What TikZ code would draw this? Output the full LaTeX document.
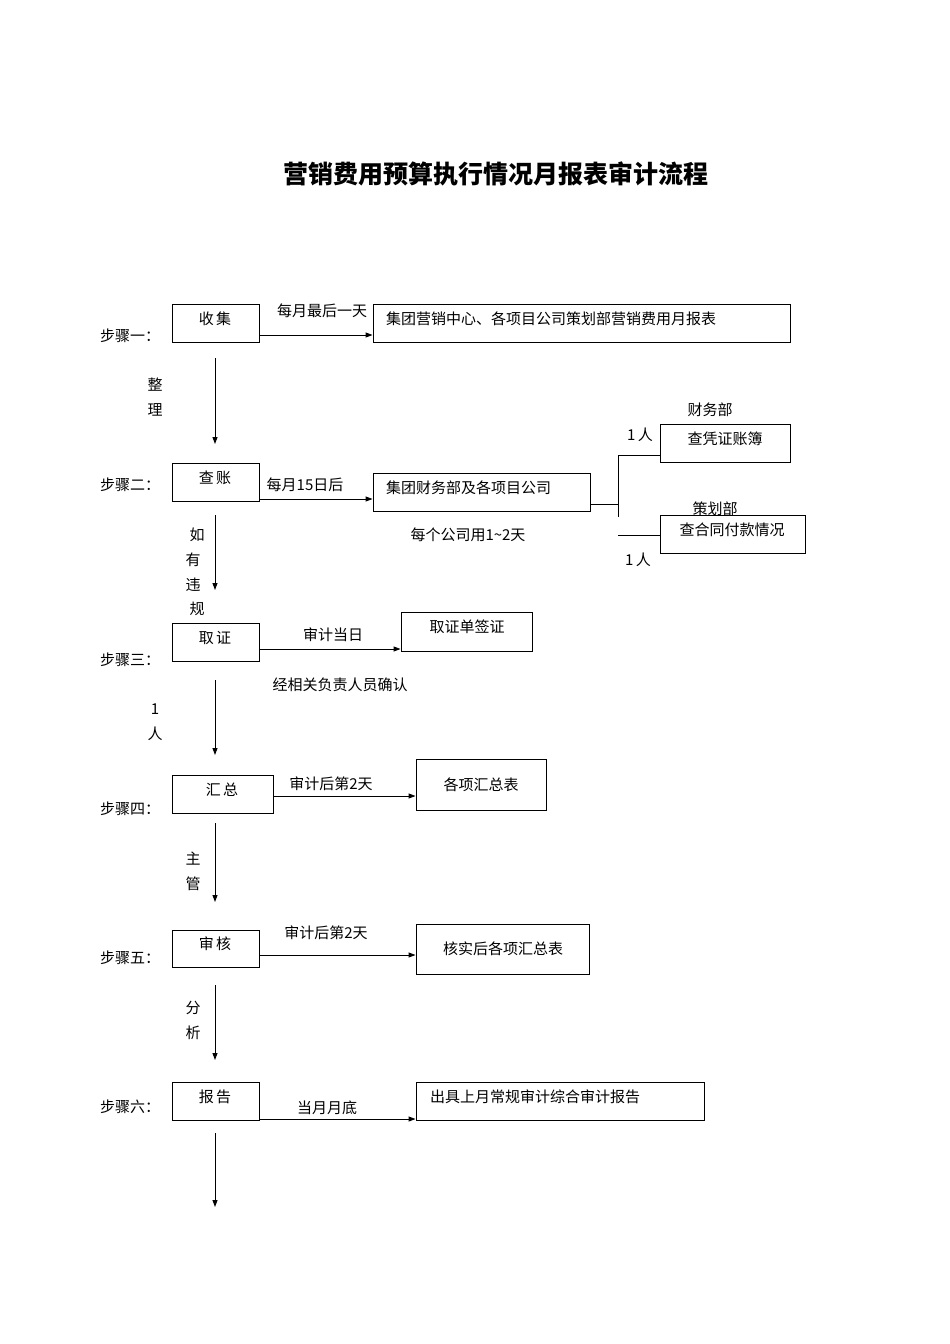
\documentclass[tikz,border=0pt]{standalone}
\usepackage{fontspec}
\setmainfont{Liberation Serif}
\newfontfamily\cjk{Noto Sans CJK SC}
\usetikzlibrary{arrows.meta}
\tikzset{
 box/.style={draw,line width=0.9pt,fill=white,inner sep=0pt},
 lbl/.style={inner sep=0pt,font=\cjk\fontsize{15}{18}\selectfont},
 ttl/.style={inner sep=0pt,font=\cjk\bfseries\fontsize{25}{30}\selectfont},
 arr/.style={line width=0.9pt,-{Triangle[length=7pt,width=5pt]}},
 ln/.style={line width=0.9pt}
}
\newcommand{\bx}[5]{\node[box,minimum width={#4pt-#2pt},minimum height={#5pt-#3pt}] (#1) at ({(#2+#4)/2},{(#3+#5)/2}) {};}
\begin{document}
\begin{tikzpicture}[x=1pt,y=-1pt]
\useasboundingbox (0,0) rectangle (950,1344);
\node[ttl] (title) at (496,174) {营销费用预算执行情况月报表审计流程};
% step 1
\node[lbl] (s1) at (130,336) {步骤一：};
\bx{b1}{172}{304}{259}{342}\node[lbl] (t1) at (215,319) {收\,集};
\bx{r1}{373}{304}{790}{342}\node[lbl,anchor=west] (tr1) at (386,319) {集团营销中心、各项目公司策划部营销费用月报表};
\draw[arr] (b1.east |- 0,335) -- (r1.west |- 0,335);
\node[lbl] (l1) at (322,311) {每月最后一天};
\coordinate (d1s) at (215,358); \coordinate (d1e) at (215,444);
\draw[arr] (d1s) -- (d1e);
\node[lbl] (z1) at (155,385) {整}; \node[lbl] (z2) at (155,410) {理};
% step 2
\node[lbl] (s2) at (130,485) {步骤二：};
\bx{b2}{172}{463}{259}{501}\node[lbl] (t2) at (215,478) {查\,账};
\bx{r2}{373}{473}{590}{511}\node[lbl,anchor=west] (tr2) at (386,488) {集团财务部及各项目公司};
\draw[arr] (b2.east |- 0,499) -- (r2.west |- 0,499);
\node[lbl] (l2) at (305,485) {每月15日后};
\node[lbl] (l2b) at (468,535) {每个公司用1\textasciitilde 2天};
\coordinate (j1) at (618,504); \coordinate (j2) at (618,455); \coordinate (j3) at (618,517); \coordinate (j4) at (618,535);
\node[lbl] (cw) at (710,410) {财务部};
\node[lbl] (p1) at (640,435) {1\,人};
\node[lbl] (ch) at (715,509) {策划部};
\bx{r3}{660}{424}{790}{462}\node[lbl] (tr3) at (725,439) {查凭证账簿};
\bx{r4}{660}{515}{805}{553}\node[lbl] (tr4) at (732,530) {查合同付款情况};
\node[lbl] (p2) at (638,560) {1\,人};
\draw[ln] (r2.east |- j1) -- (j1);
\draw[ln] (j2) -- (j3);
\draw[ln] (j2) -- (r3.west |- j2);
\draw[ln] (j4) -- (r4.west |- j4);
\coordinate (d2s) at (215,515); \coordinate (d2e) at (215,590);
\draw[arr] (d2s) -- (d2e);
\node[lbl] (w1) at (197,535) {如}; \node[lbl] (w2) at (193,560) {有};
\node[lbl] (w3) at (193,585) {违}; \node[lbl] (w4) at (197,609) {规};
% step 3
\node[lbl] (s3) at (130,660) {步骤三：};
\bx{b3}{172}{623}{259}{661}\node[lbl] (t3) at (215,638) {取\,证};
\bx{r5}{401}{612}{532}{651}\node[lbl] (tr5) at (467,627) {取证单签证};
\draw[arr] (b3.east |- 0,649) -- (r5.west |- 0,649);
\node[lbl] (l3) at (333,635) {审计当日};
\node[lbl] (l3b) at (340,685) {经相关负责人员确认};
\coordinate (d3s) at (215,680); \coordinate (d3e) at (215,755);
\draw[arr] (d3s) -- (d3e);
\node[lbl] (o1) at (155,709) {1}; \node[lbl] (o2) at (155,734) {人};
% step 4
\node[lbl] (s4) at (130,809) {步骤四：};
\bx{b4}{172}{775}{273}{813}\node[lbl] (t4) at (222,790) {汇\,总};
\bx{r6}{416}{759}{546}{810}\node[lbl] (tr6) at (481,785) {各项汇总表};
\draw[arr] (b4.east |- 0,796) -- (r6.west |- 0,796);
\node[lbl] (l4) at (331,784) {审计后第2天};
\coordinate (d4s) at (215,823); \coordinate (d4e) at (215,902);
\draw[arr] (d4s) -- (d4e);
\node[lbl] (m1) at (193,859) {主}; \node[lbl] (m2) at (193,884) {管};
% step 5
\node[lbl] (s5) at (130,958) {步骤五：};
\bx{b5}{172}{930}{259}{967}\node[lbl] (t5) at (215,944) {审\,核};
\bx{r7}{416}{924}{589}{974}\node[lbl] (tr7) at (503,949) {核实后各项汇总表};
\draw[arr] (b5.east |- 0,955) -- (r7.west |- 0,955);
\node[lbl] (l5) at (326,933) {审计后第2天};
\coordinate (d5s) at (215,985); \coordinate (d5e) at (215,1060);
\draw[arr] (d5s) -- (d5e);
\node[lbl] (f1) at (193,1008) {分}; \node[lbl] (f2) at (193,1033) {析};
% step 6
\node[lbl] (s6) at (130,1107) {步骤六：};
\bx{b6}{172}{1082}{259}{1120}\node[lbl] (t6) at (215,1097) {报\,告};
\bx{r8}{416}{1082}{704}{1120}\node[lbl,anchor=west] (tr8) at (430,1097) {出具上月常规审计综合审计报告};
\draw[arr] (b6.east |- 0,1119) -- (r8.west |- 0,1119);
\node[lbl] (l6) at (327,1108) {当月月底};
\coordinate (d6s) at (215,1133); \coordinate (d6e) at (215,1207);
\draw[arr] (d6s) -- (d6e);
\end{tikzpicture}
\end{document}
